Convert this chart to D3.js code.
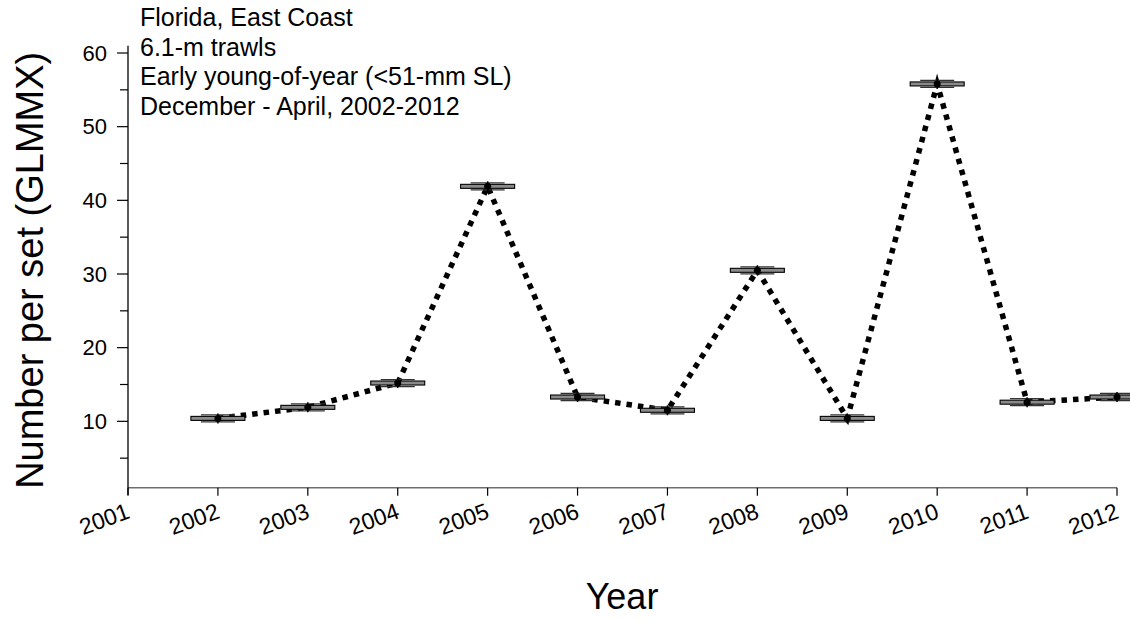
<!DOCTYPE html>
<html>
<head>
<meta charset="utf-8">
<script src="https://cdn.jsdelivr.net/npm/d3@7"></script>
<style>
  html, body { margin: 0; padding: 0; background: #fff; }
  svg { display: block; font-family: "Liberation Sans", Arial, sans-serif; }
</style>
</head>
<body>
<svg id="chart" width="1130" height="620"></svg>
<script>
// Annual index of abundance, early young-of-year, east coast of Florida
const years = [2002, 2003, 2004, 2005, 2006, 2007, 2008, 2009, 2010, 2011, 2012];
const perSet = [10.4, 11.9, 15.2, 41.9, 13.3, 11.5, 30.5, 10.4, 55.8, 12.6, 13.3];
const yTicks = [10, 20, 30, 40, 50, 60];
const yMinorTicks = [5, 15, 25, 35, 45, 55];
const xTicks = [2001, 2002, 2003, 2004, 2005, 2006, 2007, 2008, 2009, 2010, 2011, 2012];
const headerLines = [
  "Florida, East Coast",
  "6.1-m trawls",
  "Early young-of-year (<51-mm SL)",
  "December - April, 2002-2012"
];

const svg = d3.select("#chart");

const x = d3.scaleLinear().domain([2001, 2012]).range([128, 1117]);
const y = d3.scaleLinear().domain([0, 60]).range([495, 53]);

// x axis (sits at 1 on the y scale)
const xAxisY = y(1);
const gx = svg.append("g").attr("transform", `translate(0,${xAxisY})`);
gx.append("line")
  .attr("x1", x(2001)).attr("x2", x(2012))
  .attr("stroke", "#6e6e6e").attr("stroke-width", 1.5);
gx.selectAll("line.tick").data(xTicks).enter().append("line")
  .attr("class", "tick")
  .attr("x1", d => x(d)).attr("x2", d => x(d))
  .attr("y1", 0).attr("y2", 8)
  .attr("stroke", "#000").attr("stroke-width", 1.2);
gx.selectAll("text").data(xTicks).enter().append("text")
  .attr("transform", d => `translate(${x(d) + 3},${30}) rotate(-20)`)
  .attr("text-anchor", "end")
  .attr("font-size", 23)
  .text(d => d);

// y axis
const gy = svg.append("g").attr("transform", `translate(${x(2001)},0)`);
gy.append("line")
  .attr("y1", y(61)).attr("y2", y(0))
  .attr("stroke", "#000").attr("stroke-width", 1.3);
gy.selectAll("line.major").data(yTicks).enter().append("line")
  .attr("class", "major")
  .attr("x1", -11).attr("x2", 0)
  .attr("y1", d => y(d)).attr("y2", d => y(d))
  .attr("stroke", "#000").attr("stroke-width", 1.2);
gy.selectAll("line.minor").data(yMinorTicks).enter().append("line")
  .attr("class", "minor")
  .attr("x1", -8).attr("x2", 0)
  .attr("y1", d => y(d)).attr("y2", d => y(d))
  .attr("stroke", "#000").attr("stroke-width", 1.2);
gy.selectAll("text").data(yTicks).enter().append("text")
  .attr("x", -21).attr("y", d => y(d))
  .attr("dy", "0.35em")
  .attr("text-anchor", "end")
  .attr("font-size", 22)
  .text(d => d);

// axis titles
svg.append("text")
  .attr("transform", `translate(43,${y(30.5)}) rotate(-90)`)
  .attr("text-anchor", "middle")
  .attr("font-size", 38)
  .text("Number per set (GLMMX)");
svg.append("text")
  .attr("x", 622).attr("y", 609)
  .attr("text-anchor", "middle")
  .attr("font-size", 36)
  .text("Year");

// header block
svg.append("g").selectAll("text").data(headerLines).enter().append("text")
  .attr("x", 140).attr("y", (d, i) => 26 + i * 29.5)
  .attr("font-size", 25)
  .text(d => d);

// dotted connecting line
const points = years.map((yr, i) => ({ yr, v: perSet[i] }));
const line = d3.line().x(d => x(d.yr)).y(d => y(d.v));
svg.append("path")
  .datum(points)
  .attr("d", line)
  .attr("fill", "none")
  .attr("stroke", "#000")
  .attr("stroke-width", 5.5)
  .attr("stroke-dasharray", "5.5,6");

// error-bar glyphs at each annual mean
const marks = svg.append("g").selectAll("g").data(points).enter().append("g")
  .attr("transform", d => `translate(${x(d.yr)},${y(d.v)})`);
marks.append("line")
  .attr("x1", -17).attr("x2", 17).attr("y1", -3.5).attr("y2", -3.5)
  .attr("stroke", "#333").attr("stroke-width", 1.3);
marks.append("line")
  .attr("x1", -17).attr("x2", 17).attr("y1", 3.5).attr("y2", 3.5)
  .attr("stroke", "#333").attr("stroke-width", 1.3);
marks.append("rect")
  .attr("x", -27).attr("y", -2).attr("width", 54).attr("height", 4)
  .attr("fill", "#8a8a8a").attr("stroke", "#000").attr("stroke-width", 1.1);
marks.append("line")
  .attr("x1", 0).attr("x2", 0).attr("y1", -5).attr("y2", 5)
  .attr("stroke", "#000").attr("stroke-width", 1.5);
marks.append("circle")
  .attr("r", 3.5)
  .attr("fill", "#000");
</script>
</body>
</html>
